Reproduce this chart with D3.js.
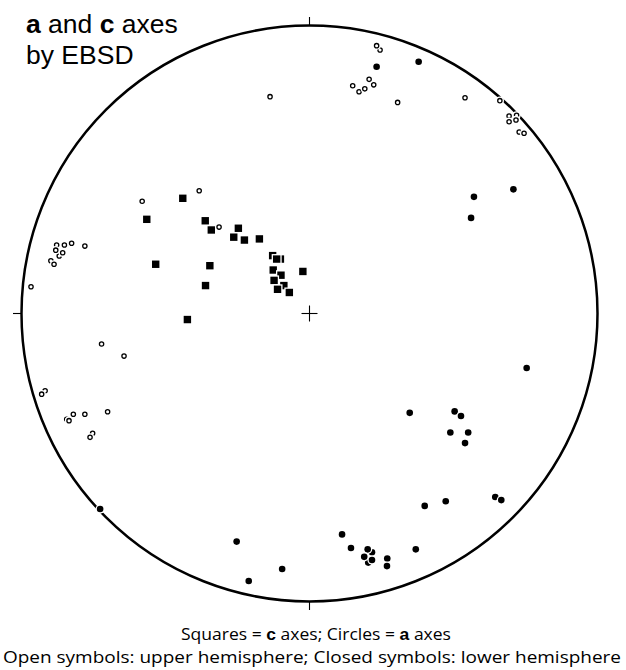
<!DOCTYPE html>
<html>
<head>
<meta charset="utf-8">
<script src="https://cdn.jsdelivr.net/npm/d3@7"></script>
<style>
  html, body { margin: 0; padding: 0; background: #fff; }
  svg { display: block; }
</style>
</head>
<body>
<div id="chart"></div>
<script>
// Stereonet positions, in net units (primitive radius = 100)
// drawing order matters: points lower in a list sit on top of earlier ones
const cAxesLower = [
  [-44.0, 40.0], [-56.5, 32.7], [-36.2, 32.2], [-34.1, 29.0], [-24.7, 29.6],
  [-26.3, 26.5], [-22.6, 25.5], [-17.4, 25.9], [-53.4, 17.1], [-34.6, 16.6],
  [-36.1, 9.7], [-42.4, -2.1], [-2.3, 14.6],
  [-12.8, 20.1], [-10.1, 18.9], [-11.4, 18.9], [-12.6, 15.1], [-9.9, 13.3],
  [-12.3, 11.5], [-8.9, 9.7], [-11.1, 8.4], [-7.0, 7.3],
];

const aAxesUpper = [
  [-13.7, 75.3], [-38.3, 42.6], [-58.1, 39.0], [-31.4, 30.0],
  [-87.8, 23.8], [-86.9, 20.0], [-89.8, 18.3], [-85.1, 23.8], [-82.6, 24.4],
  [-78.0, 23.4], [-88.1, 22.0], [-85.7, 21.1], [-88.7, 17.1], [-96.7, 9.3],
  [-72.2, -10.6], [-64.4, -14.8], [-91.8, -26.8], [-93.0, -28.0],
  [-84.3, -36.7], [-83.5, -37.2], [-82.0, -35.0], [-78.0, -35.0], [-70.1, -34.1],
  [-75.3, -41.6], [-76.2, -43.0],
  [24.5, 91.5], [23.3, 93.0], [22.3, 79.4], [20.7, 81.3], [15.0, 79.1],
  [17.2, 77.0], [19.2, 78.0], [30.6, 73.3], [54.0, 74.9], [66.1, 73.9],
  [69.3, 68.6], [71.9, 68.8], [69.3, 66.6], [71.7, 67.2], [72.8, 63.0], [74.5, 62.6],
];

const aAxesLower = [
  [23.3, 85.7], [37.9, 87.4], [70.8, 43.1], [57.1, 40.5], [56.1, 33.2],
  [75.4, -18.9], [34.8, -34.5], [50.4, -34.0], [52.6, -35.6], [48.9, -41.3],
  [55.1, -41.3], [54.0, -45.0], [64.5, -63.7], [66.6, -64.8], [47.3, -65.2],
  [40.0, -66.8], [11.3, -76.7], [14.4, -81.4], [21.7, -82.9], [20.4, -86.5],
  [20.2, -81.9], [19.0, -84.5], [21.7, -85.6], [27.0, -85.1], [26.9, -87.7],
  [36.9, -81.9], [-25.3, -79.2], [-9.5, -88.7], [-21.1, -92.9], [-72.7, -67.9],
];

const width = 626;
const height = 670;
const cx = 309.5;
const cy = 313.5;
const R = 288;

const svg = d3
  .select("#chart")
  .append("svg")
  .attr("width", width)
  .attr("height", height);

const x = d3.scaleLinear().domain([-100, 100]).range([cx - R, cx + R]);
const y = d3.scaleLinear().domain([-100, 100]).range([cy + R, cy - R]);

// Primitive circle, ticks and centre cross
const net = svg.append("g");
net
  .append("circle")
  .attr("cx", x(0))
  .attr("cy", y(0))
  .attr("r", x(100) - x(0))
  .attr("fill", "none")
  .attr("stroke", "#000")
  .attr("stroke-width", 2.5);

const tick = 8.5;
const ticks = [
  [x(0), y(100), x(0), y(100) - tick],
  [x(0), y(-100), x(0), y(-100) + tick],
  [x(-100), y(0), x(-100) - tick, y(0)],
  [x(0) - 8, y(0), x(0) + 8, y(0)],
  [x(0), y(0) - 8, x(0), y(0) + 8],
];
net
  .selectAll("line")
  .data(ticks)
  .enter()
  .append("line")
  .attr("x1", (d) => d[0])
  .attr("y1", (d) => d[1])
  .attr("x2", (d) => d[2])
  .attr("y2", (d) => d[3])
  .attr("stroke", "#000")
  .attr("stroke-width", 1.1);

// Each mark gets a white halo so later points cut into earlier ones
const halo = 1.3;
const side = 7.4;

const squares = svg
  .append("g")
  .selectAll("g")
  .data(cAxesLower)
  .enter()
  .append("g");
squares
  .append("rect")
  .attr("x", (d) => x(d[0]) - side / 2 - halo)
  .attr("y", (d) => y(d[1]) - side / 2 - halo)
  .attr("width", side + halo * 2)
  .attr("height", side + halo * 2)
  .attr("fill", "#fff");
squares
  .append("rect")
  .attr("x", (d) => x(d[0]) - side / 2)
  .attr("y", (d) => y(d[1]) - side / 2)
  .attr("width", side)
  .attr("height", side)
  .attr("fill", "#000");

const open = svg
  .append("g")
  .selectAll("g")
  .data(aAxesUpper)
  .enter()
  .append("g");
open
  .append("circle")
  .attr("cx", (d) => x(d[0]))
  .attr("cy", (d) => y(d[1]))
  .attr("r", 2.8 + halo)
  .attr("fill", "#fff");
open
  .append("circle")
  .attr("cx", (d) => x(d[0]))
  .attr("cy", (d) => y(d[1]))
  .attr("r", 2.15)
  .attr("fill", "#fff")
  .attr("stroke", "#000")
  .attr("stroke-width", 1.3);

const closed = svg
  .append("g")
  .selectAll("g")
  .data(aAxesLower)
  .enter()
  .append("g");
closed
  .append("circle")
  .attr("cx", (d) => x(d[0]))
  .attr("cy", (d) => y(d[1]))
  .attr("r", 3.3 + halo)
  .attr("fill", "#fff");
closed
  .append("circle")
  .attr("cx", (d) => x(d[0]))
  .attr("cy", (d) => y(d[1]))
  .attr("r", 3.3)
  .attr("fill", "#000");

// Title
const title = svg
  .append("text")
  .attr("font-family", "'Liberation Sans', Arial, sans-serif")
  .attr("font-size", 26.5)
  .attr("fill", "#000");
const t1 = title.append("tspan").attr("x", 26).attr("y", 33);
t1.append("tspan").attr("font-weight", "bold").text("a");
t1.append("tspan").text(" and ");
t1.append("tspan").attr("font-weight", "bold").text("c");
t1.append("tspan").text(" axes");
title.append("tspan").attr("x", 26).attr("y", 64).text("by EBSD");

// Legend lines
const legend = svg
  .append("g")
  .attr("font-family", "'Open Sans', 'Noto Sans', sans-serif")
  .attr("font-size", 17)
  .attr("fill", "#000")
  .attr("text-anchor", "middle");
const l1 = legend
  .append("text")
  .attr("x", 316)
  .attr("y", 640)
  .attr("textLength", 270)
  .attr("lengthAdjust", "spacingAndGlyphs");
l1.append("tspan").text("Squares = ");
l1.append("tspan")
  .attr("font-family", "'Liberation Sans', Arial, sans-serif")
  .attr("font-weight", "bold")
  .text("c");
l1.append("tspan").text(" axes; Circles = ");
l1.append("tspan")
  .attr("font-family", "'Liberation Sans', Arial, sans-serif")
  .attr("font-weight", "bold")
  .text("a");
l1.append("tspan").text(" axes");
legend
  .append("text")
  .attr("x", 312)
  .attr("y", 663)
  .attr("textLength", 618)
  .attr("lengthAdjust", "spacingAndGlyphs")
  .text("Open symbols: upper hemisphere; Closed symbols: lower hemisphere");
</script>
</body>
</html>
